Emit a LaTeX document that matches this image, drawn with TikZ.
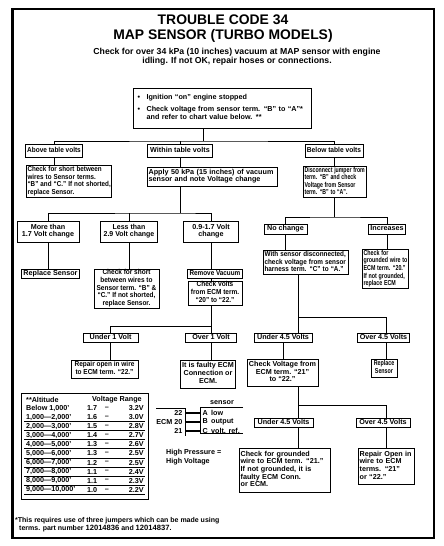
\documentclass[tikz,border=0pt]{standalone}
\usepackage{fontspec}
\usepackage{graphicx}
\setmainfont{Liberation Sans}
\newcommand\fs{\fontsize{7.2}{7.8}\selectfont\bfseries}
\newcommand\Sq[3]{\scalebox{#1}[1]{\begin{tabular}{@{}#2@{}}#3\end{tabular}}}
\newcommand\Bx[7]{\node[bx,align=center,minimum width={(#4-#2)*1pt},minimum height={(#5-#3)*1pt}] (#1) at ({(#2+#4)/2},{(#3+#5)/2}) {\Sq{#6}{c}{#7}};}
\newcommand\Bl[7]{\node[bx,inner xsep=1.6pt,align=left,text width={(#4-#2-3.2)*1pt},minimum width={(#4-#2)*1pt},minimum height={(#5-#3)*1pt}] (#1) at ({(#2+#4)/2},{(#3+#5)/2}) {\Sq{#6}{l}{#7}};}
\renewcommand\arraystretch{0.98}
\begin{document}
\begin{tikzpicture}[x=1pt,y=-1pt,
 bx/.style={draw,line width=0.9pt,inner xsep=2pt,inner ysep=0.4pt,font=\fs},
 ln/.style={line width=0.9pt},
 tx/.style={inner sep=0pt,font=\fs}]
\useasboundingbox (0,0) rectangle (444,546);
\fill[white] (0,0) rectangle (444,546);
\draw[line width=1.3pt] (12,9) rectangle (434,538);
\draw[line width=1.3pt] (13.3,9) -- (13.3,538);
% title
\node[tx,font=\fontsize{13.9}{14.5}\selectfont\bfseries,align=center] (title) at (223,28.7) {TROUBLE CODE 34\\MAP SENSOR (TURBO MODELS)};
\node[tx,font=\fontsize{8.7}{9.3}\selectfont\bfseries,align=center] (sub) at (237,56.5) {Check for over 34 kPa (10 inches) vacuum at MAP sensor with engine\\idling. If not OK, repair hoses or connections.};
% top
\Bl{top}{133}{88}{311}{128}{1}{\makebox[12pt][l]{\hspace{3pt}•}Ignition “on” engine stopped\\[4pt]\makebox[12pt][l]{\hspace{3pt}•}Check voltage from sensor term. “B” to “A”*\\[1pt]\hspace*{12pt}and refer to chart value below. **}
% level 1
\Bx{labA}{25.5}{144}{82.5}{157}{0.9}{Above table volts}
\Bx{labW}{147.5}{144}{212.5}{157}{1}{Within table volts}
\Bx{labB}{305}{144}{363}{157}{0.92}{Below table volts}
\coordinate (j0) at (203,141);
\draw[ln] (top.south -| j0) -- (j0);
\draw[ln] (labA.north) |- (j0) -| (labB.north);
\draw[ln] (labW.north) -- (labW.north |- j0);
% level 2
\Bl{aboveBox}{26}{167}{111}{196}{0.87}{Check for short between\\wires to Sensor terms.\\“B” and “C.” If not shorted,\\replace Sensor.}
\Bl{apply}{147}{167}{277}{186}{1}{Apply 50 kPa (15 inches) of vacuum\\sensor and note Voltage change}
\Bl{disc}{303}{167}{366}{197}{0.72}{Disconnect jumper from\\term. “B” and check\\Voltage from Sensor\\term. “B” to “A”.}
\draw[ln] (labA.south) -- (labA.south |- aboveBox.north);
\draw[ln] (labW.south) -- (labW.south |- apply.north);
\draw[ln] (labB.south) -- (labB.south |- disc.north);
% within branch
\Bx{more}{17}{221}{79}{242}{1}{More than\\1.7 Volt change}
\Bx{less}{100.5}{221}{157.5}{242}{0.97}{Less than\\2.9 Volt change}
\Bx{mid}{183.5}{221}{238.5}{242}{1}{0.9-1.7 Volt\\change}
\coordinate (j1) at (180,213);
\draw[ln] (apply.south -| j1) -- (j1);
\draw[ln] (more.north) |- (j1) -| (mid.north);
\draw[ln] (less.north) -- (less.north |- j1);
% below branch
\Bx{nochg}{264}{224}{307}{234}{1}{No change}
\Bx{incr}{369}{224}{405}{234}{1}{Increases}
\coordinate (j2) at (334,217);
\draw[ln] (disc.south -| j2) -- (j2);
\draw[ln] (nochg.north) |- (j2) -| (incr.north);
% level 4
\Bx{repl1}{22}{269}{79}{278}{1}{Replace Sensor}
\Bx{lesschk}{94}{269}{159}{308}{0.9}{Check for short\\between wires to\\Sensor term. “B” \&\\“C.” If not shorted,\\replace Sensor.}
\Bx{remvac}{188}{269}{242}{278}{0.88}{Remove Vacuum}
\Bx{chkvolts}{188}{281}{242}{305}{0.9}{Check Volts\\from ECM term.\\“20” to “22.”}
\Bl{ws}{263}{252}{348}{273}{0.88}{With sensor disconnected,\\check voltage from sensor\\harness term. “C” to “A.”}
\Bl{incchk}{362}{252}{408}{286}{0.74}{Check for\\grounded wire to\\ECM term. “20.”\\If not grounded,\\replace ECM}
\draw[ln] (more.south) -- (more.south |- repl1.north);
\draw[ln] (less.south) -- (less.south |- lesschk.north);
\draw[ln] (mid.south) -- (mid.south |- remvac.north);
\draw[ln] (mid.south |- remvac.south) -- (mid.south |- chkvolts.north);
\draw[ln] (nochg.south) -- (nochg.south |- ws.north);
\draw[ln] (incr.south) -- (incr.south |- incchk.north);
% volts branch
\Bx{under1}{83}{333}{138}{342}{1}{Under 1 Volt}
\Bx{over1}{185.5}{333}{236.5}{342}{1}{Over 1 Volt}
\Bx{repair22}{71}{360}{138}{378}{0.9}{Repair open in wire\\to ECM term. “22.”}
\Bx{faulty}{181}{360}{235}{388}{1}{It is faulty ECM\\Connection or\\ECM.}
\coordinate (j3) at (211,326);
\draw[ln] (chkvolts.south -| j3) -- (j3 |- over1.north);
\draw[ln] (under1.north) |- (j3);
\draw[ln] (under1.south) -- (under1.south |- repair22.north);
\draw[ln] (over1.south -| j3) -- (j3 |- faulty.north);
% right branch
\Bx{u45a}{254}{333}{312}{342}{1}{Under 4.5 Volts}
\Bx{o45a}{358}{333}{409}{342}{1}{Over 4.5 Volts}
\Bx{chk21}{247}{359}{318}{386}{1}{Check Voltage from\\ECM term. “21”\\to “22.”}
\Bx{repl2}{371}{359}{397}{377}{0.74}{Replace\\Sensor}
\coordinate (j4) at (298,317);
\coordinate (j4r) at (386,317);
\coordinate (c283) at (283,350);
\draw[ln] (ws.south -| j4) -- (j4 |- u45a.north);
\draw[ln] (j4) -- (j4r) -- (j4r |- o45a.north);
\draw[ln] (u45a.south -| c283) -- (c283 |- chk21.north);
\draw[ln] (o45a.south -| j4r) -- (j4r |- repl2.north);
% lower branch
\Bx{u45b}{254}{418}{313}{427}{1}{Under 4.5 Volts}
\Bx{o45b}{356}{418}{410}{427}{1}{Over 4.5 Volts}
\Bl{gnd21}{239}{448}{330}{492}{1}{Check for grounded\\wire to ECM term. “21.”\\If not grounded, it is\\faulty ECM Conn.\\or ECM.}
\Bl{open2122}{358}{448}{414}{484}{1}{Repair Open in\\wire to ECM\\terms. “21”\\or “22.”}
\coordinate (j5) at (298,405);
\coordinate (j5r) at (386,405);
\draw[ln] (chk21.south -| j5) -- (j5 |- u45b.north);
\draw[ln] (j5) -- (j5r) -- (j5r |- o45b.north);
\draw[ln] (u45b.south -| j5) -- (j5 |- gnd21.north);
\draw[ln] (o45b.south -| j5r) -- (j5r |- open2122.north);
% ECM schematic
\draw[ln] (156,408) -- (185,408) -- (185,436);
\draw[ln] (243,407) -- (200,407) -- (200,433) -- (243,433);
\foreach \y in {413,422,431} \draw[line width=1.5pt] (185,\y) -- (200,\y);
\node[tx,anchor=east] (e22) at (182.5,413) {22};
\node[tx,anchor=east] (e20) at (182.5,422) {ECM 20};
\node[tx,anchor=east] (e21) at (182.5,431) {21};
\node[tx,anchor=west] (sA) at (202.5,413) {\makebox[8.5pt][l]{A}low};
\node[tx,anchor=west] (sB) at (202.5,422) {\makebox[8.5pt][l]{B}output};
\node[tx,anchor=west] (sC) at (202.5,431) {\makebox[8.5pt][l]{C}volt. ref.};
\node[tx] (sens) at (222,402.5) {sensor};
\node[tx,anchor=west,align=left,font=\fontsize{7.2}{9}\selectfont\bfseries] (hp) at (166,457.5) {High Pressure =\\High Voltage};
% table
\draw[line width=0.9pt] (21,393) rectangle (148,499);
\node[tx,anchor=west] (hA) at (26,399.5) {**Altitude};
\node[tx,anchor=west] (hV) at (92,399.5) {Voltage Range};
\foreach \i/\a/\b/\c in {1/{Below 1,000’}/1.7/3.2V,2/{1,000—2,000’}/1.6/3.0V,3/{2,000—3,000’}/1.5/2.8V,4/{3,000—4,000’}/1.4/2.7V,5/{4,000—5,000’}/1.3/2.6V,6/{5,000—6,000’}/1.3/2.5V,7/{6,000—7,000’}/1.2/2.5V,8/{7,000—8,000’}/1.1/2.4V,9/{8,000—9,000’}/1.1/2.3V,10/{9,000—10,000’}/1.0/2.2V}{
  \node[tx,anchor=west] (ra\i) at (26,{408+9.1*(\i-1)}) {\a};
  \node[tx,anchor=west] (rb\i) at (87,{408+9.1*(\i-1)}) {\b};
  \node[tx] (rd\i) at (107,{408+9.1*(\i-1)}) {–};
  \node[tx,anchor=east] (rc\i) at (144,{408+9.1*(\i-1)}) {\c};
  \ifnum\i>1 \draw[line width=0.8pt] (24,{412.4+9.1*(\i-1)}) -- (145,{412.4+9.1*(\i-1)}); \fi
}
% footnote
\node[tx,anchor=west,align=left,font=\fontsize{7}{8.2}\selectfont\bfseries] (fn) at (15,525) {*This requires use of three jumpers which can be made using\\\hspace*{4pt}terms. part number {\fontsize{7.6}{8}\selectfont 12014836} and {\fontsize{7.6}{8}\selectfont 12014837}.};
\end{tikzpicture}
\end{document}
